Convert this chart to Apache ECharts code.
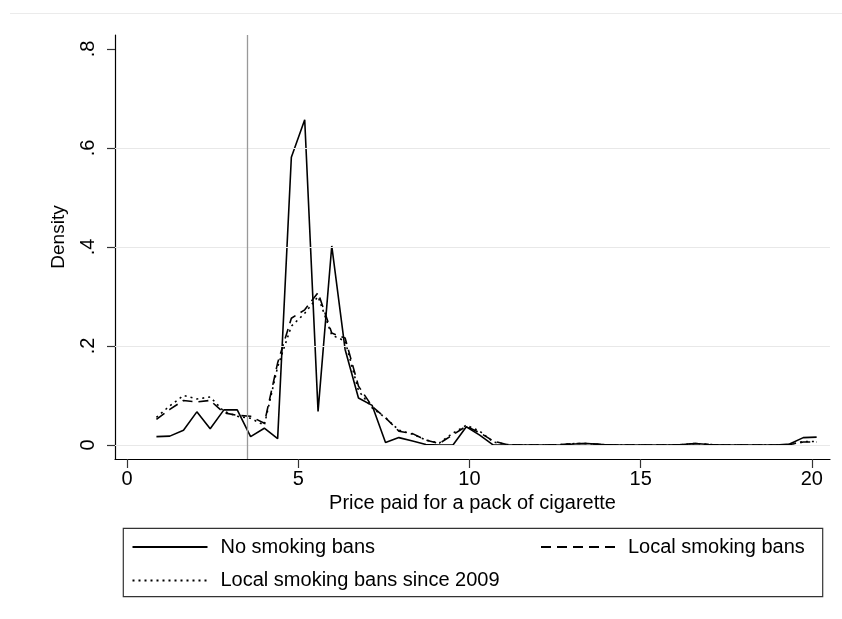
<!DOCTYPE html>
<html>
<head>
<meta charset="utf-8">
<script src="https://cdn.jsdelivr.net/npm/echarts@6/dist/echarts.min.js"></script>
<style>
html,body{margin:0;padding:0;background:#fff;}
#chart{width:842px;height:619px;}
</style>
</head>
<body>
<div id="chart"></div>
<script>
// Evaluation points (price)
var prices = [0.86,1.25,1.65,2.04,2.43,2.83,3.22,3.61,4.01,4.40,
              4.80,5.19,5.58,5.98,6.37,6.76,7.16,7.55,7.94,8.34,
              8.73,9.12,9.52,9.91,10.30,10.70,11.09,11.48,11.88,12.27,
              12.67,13.06,13.45,13.85,14.24,14.63,15.03,15.42,15.81,16.21,
              16.60,16.99,17.39,17.78,18.17,18.57,18.96,19.35,19.75,20.14];
// Density: No smoking bans
var noBans = [0.017,0.018,0.030,0.067,0.033,0.071,0.071,0.017,0.034,0.013,
              0.581,0.657,0.068,0.402,0.193,0.095,0.080,0.005,0.015,0.008,
              0.001,0.000,0.000,0.037,0.020,0.000,0.000,0.000,0.000,0.000,
              0.000,0.002,0.003,0.001,0.000,0.000,0.000,0.000,0.000,0.001,
              0.003,0.001,0.000,0.000,0.000,0.000,0.000,0.002,0.015,0.016];
// Density: Local smoking bans
var localBans = [0.052,0.072,0.090,0.087,0.090,0.065,0.060,0.058,0.044,0.166,
                 0.256,0.273,0.308,0.226,0.216,0.119,0.078,0.055,0.028,0.023,
                 0.010,0.003,0.021,0.038,0.025,0.008,0.001,0.000,0.000,0.000,
                 0.001,0.003,0.003,0.001,0.000,0.000,0.000,0.000,0.000,0.001,
                 0.003,0.001,0.000,0.000,0.000,0.000,0.000,0.001,0.006,0.006];
// Density: Local smoking bans since 2009
var localBans2009 = [0.056,0.079,0.100,0.093,0.097,0.068,0.058,0.054,0.040,0.158,
                     0.240,0.266,0.300,0.222,0.210,0.110,0.075,0.055,0.030,0.022,
                     0.010,0.004,0.024,0.040,0.028,0.006,0.001,0.000,0.000,0.000,
                     0.001,0.003,0.003,0.001,0.000,0.000,0.000,0.000,0.000,0.001,
                     0.003,0.001,0.000,0.000,0.000,0.000,0.000,0.001,0.007,0.007];
var seriesNames = ['No smoking bans','Local smoking bans','Local smoking bans since 2009'];
var xTicks = [0,5,10,15,20];
var yTicks = [0,0.2,0.4,0.6,0.8];
var yTickLabels = ['0','.2','.4','.6','.8'];
var gridValues = [0,0.2,0.4,0.6];
var refPrice = 3.5;

function pairs(ys){ return prices.map(function(x,i){ return [x, ys[i]]; }); }
var FONT = '"Liberation Sans", Arial, sans-serif';

var chart = echarts.init(document.getElementById('chart'), null, {renderer:'canvas'});
chart.setOption({
  animation:false,
  backgroundColor:'#fff',
  grid:{left:115, right:12, top:35, bottom:160, containLabel:false},
  xAxis:{
    type:'value', min:-0.35, max:20.53,
    name:'Price paid for a pack of cigarette',
    nameLocation:'middle', nameGap:33,
    nameTextStyle:{fontSize:20, color:'#000', fontFamily:FONT},
    axisLine:{show:true, onZero:false, lineStyle:{color:'#000', width:1.2}},
    axisTick:{show:true, customValues:xTicks, length:9, lineStyle:{color:'#333', width:1.2}},
    axisLabel:{customValues:xTicks, margin:10, fontSize:20, color:'#000', fontFamily:FONT},
    splitLine:{show:false}
  },
  yAxis:{
    type:'value', min:-0.0282, max:0.828,
    axisLine:{show:true, onZero:false, lineStyle:{color:'#000', width:1.2}},
    axisTick:{show:true, customValues:yTicks, length:8, lineStyle:{color:'#333', width:1.2}},
    axisLabel:{customValues:yTicks, rotate:90, margin:17, fontSize:20, color:'#000', fontFamily:FONT,
      formatter:function(v){ var i = yTicks.findIndex(function(t){return Math.abs(t-v)<1e-6;}); return i>=0?yTickLabels[i]:''; }},
    splitLine:{show:false}
  },
  legend:[
    {data:[seriesNames[0], seriesNames[2]], orient:'vertical', left:126.5, top:532,
     itemWidth:75, itemHeight:20, itemGap:13.4,
     itemStyle:{opacity:0},
     textStyle:{fontSize:20, color:'#000', fontFamily:FONT, padding:[0,0,0,8]}},
    {data:[seriesNames[1]], orient:'horizontal', left:535, top:532,
     itemWidth:75, itemHeight:20,
     itemStyle:{opacity:0},
     textStyle:{fontSize:20, color:'#000', fontFamily:FONT, padding:[0,0,0,7]}}
  ],
  graphic:[
    {type:'line', shape:{x1:10, y1:13.5, x2:842, y2:13.5}, style:{stroke:'#ebebeb', lineWidth:1}, silent:true},
    {type:'rect', shape:{x:123.3, y:528.3, width:699.4, height:68.4}, style:{fill:'none', stroke:'#333', lineWidth:1.2}, silent:true},
    {type:'text', x:59, y:237, rotation:Math.PI/2, style:{text:'Density', fontSize:19, fill:'#000', fontFamily:FONT, align:'center', verticalAlign:'middle'}, silent:true}
  ],
  series:[
    {type:'line', name:'_grid', data:[], silent:true, z:1,
     markLine:{silent:true, symbol:'none', label:{show:false},
       lineStyle:{color:'#e8e8e8', width:1.2, type:'solid'},
       data:gridValues.map(function(v){return {yAxis:v};})}},
    {type:'line', name:'_ref', data:[], silent:true, z:1,
     markLine:{silent:true, symbol:'none', label:{show:false},
       lineStyle:{color:'#999', width:1.3, type:'solid'},
       data:[{xAxis:refPrice}]}},
    {type:'line', name:seriesNames[0], data:pairs(noBans), showSymbol:false, symbol:'none', z:4,
     lineStyle:{color:'#000', width:1.6, type:'solid'}, itemStyle:{color:'#000'}},
    {type:'line', name:seriesNames[1], data:pairs(localBans), showSymbol:false, symbol:'none', z:3,
     lineStyle:{color:'#000', width:1.6, type:[10,6]}, itemStyle:{color:'#000'}},
    {type:'line', name:seriesNames[2], data:pairs(localBans2009), showSymbol:false, symbol:'none', z:3,
     lineStyle:{color:'#000', width:1.6, type:[2,4]}, itemStyle:{color:'#000'}}
  ]
});
</script>
</body>
</html>
